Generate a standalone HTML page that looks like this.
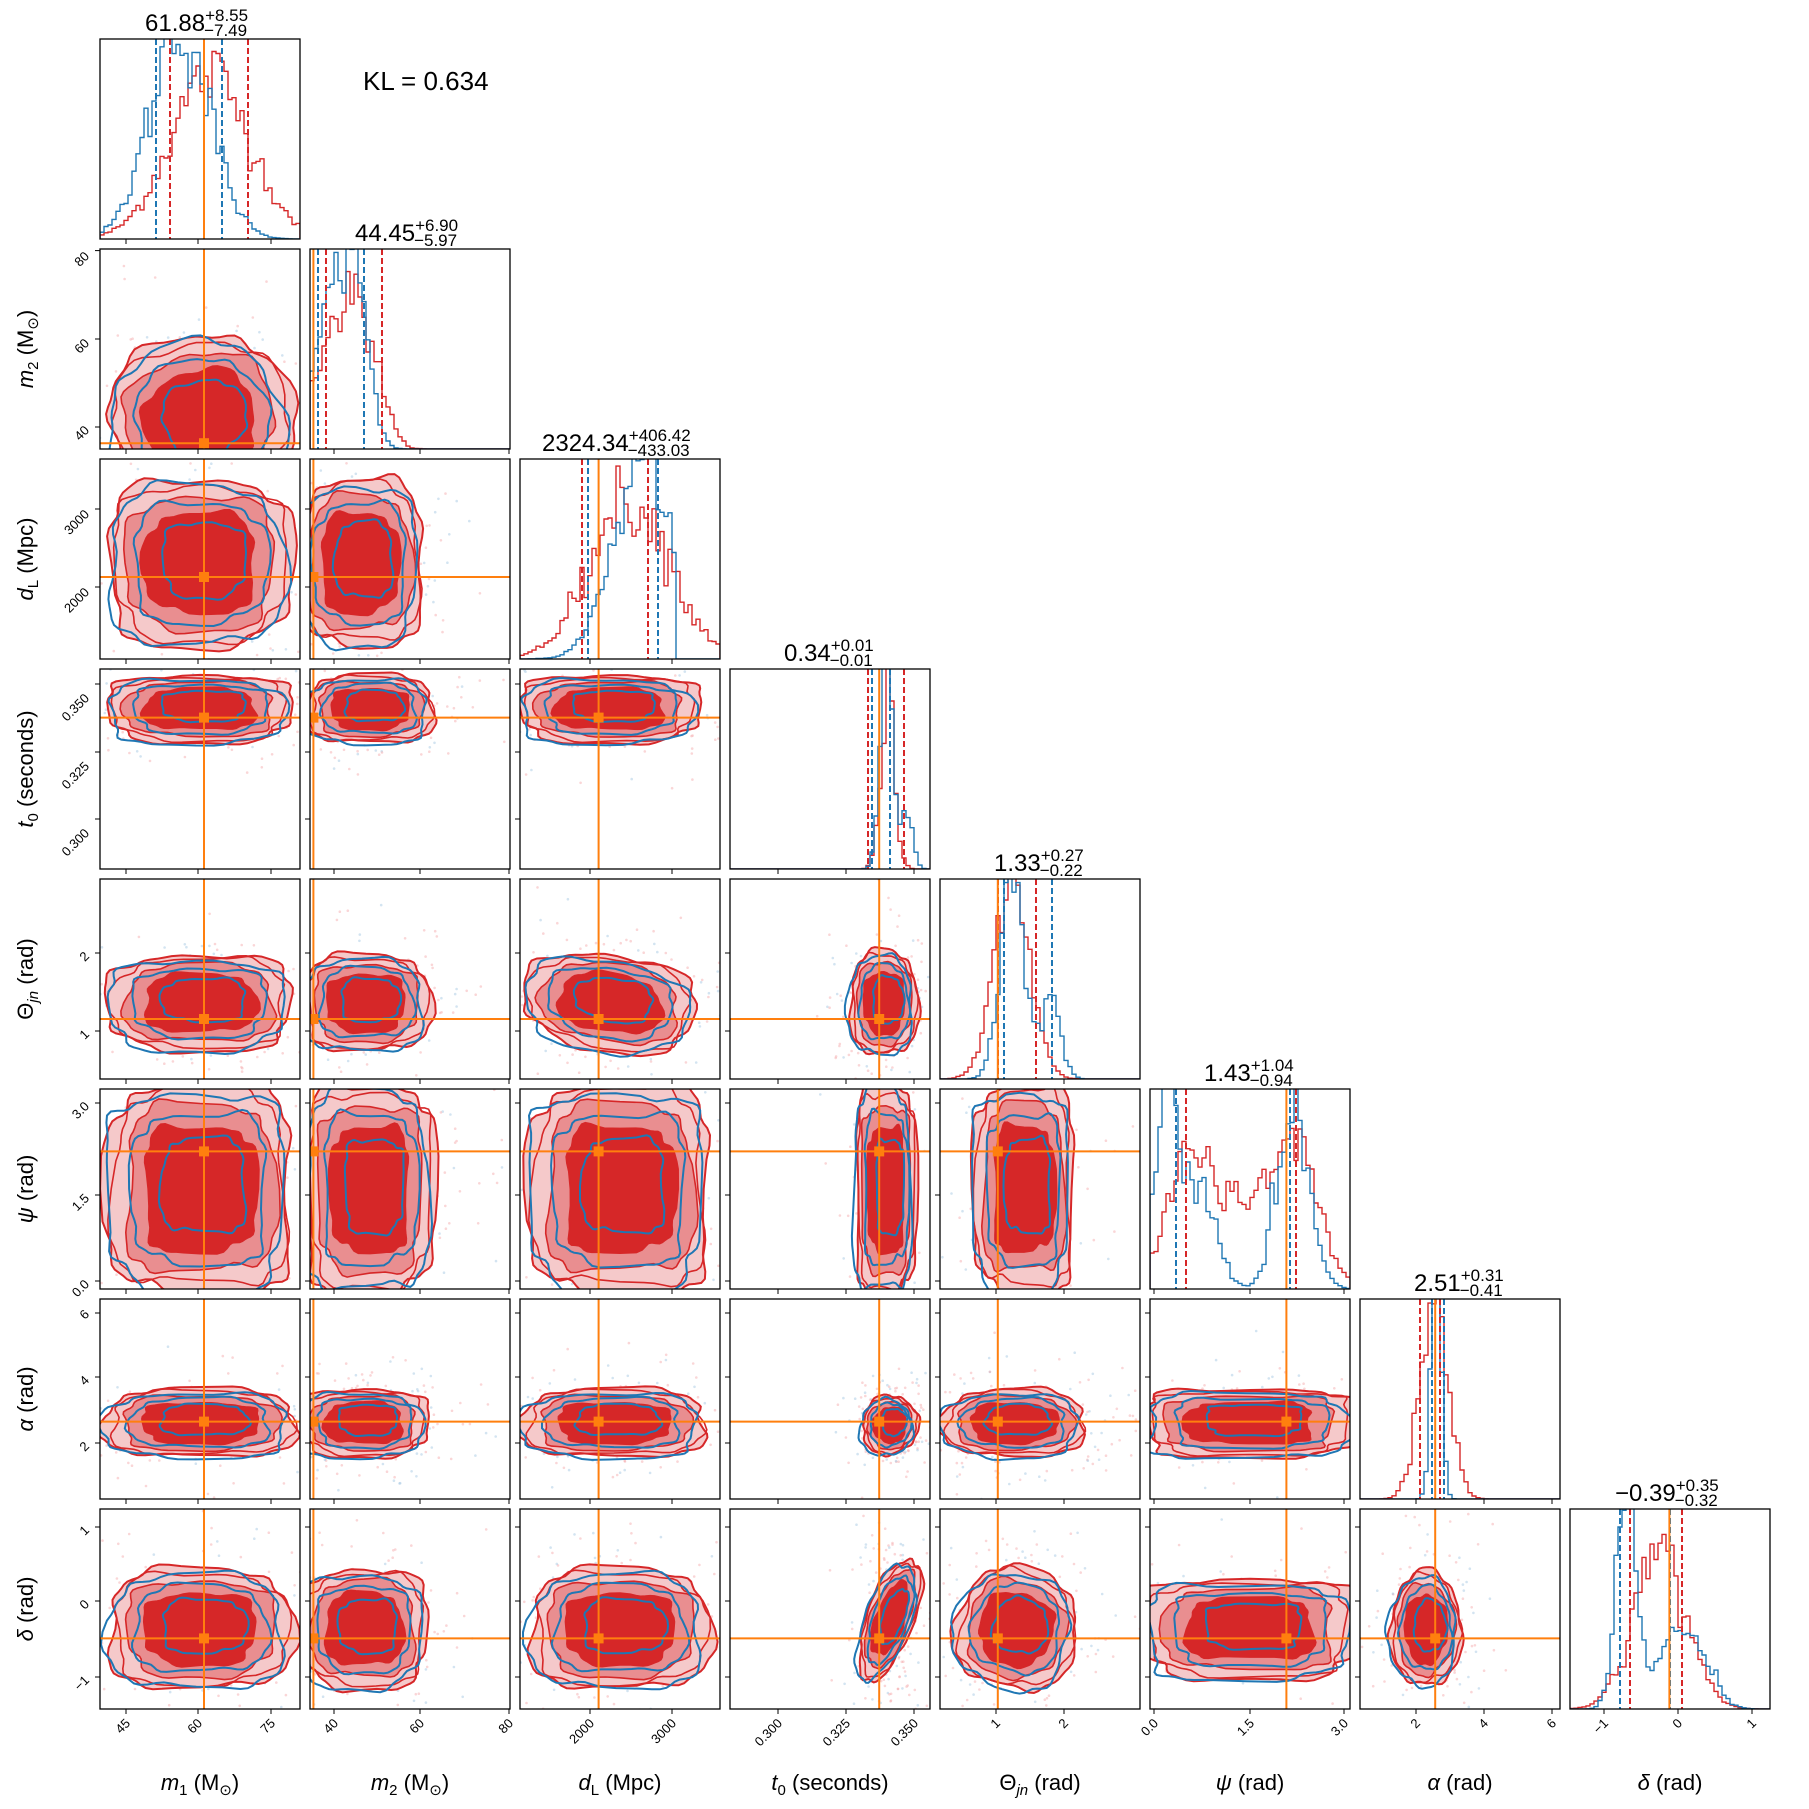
<!DOCTYPE html>
<html><head><meta charset="utf-8"><style>
html,body{margin:0;padding:0;background:#fff}
svg{display:block}
text{font-family:"Liberation Sans","DejaVu Sans",sans-serif;fill:#000}
</style></head><body>
<svg id="s" width="1809" height="1809" viewBox="0 0 1809 1809" xmlns="http://www.w3.org/2000/svg">
<g id="plots"></g>
<g id="txt" font-size="11">
<g font-size="24" text-anchor="start">
<text x="145" y="31">61.88<tspan font-size="17" dy="-10">+8.55</tspan><tspan font-size="17" dx="-44" dy="15">−7.49</tspan></text>
<text x="355" y="241">44.45<tspan font-size="17" dy="-10">+6.90</tspan><tspan font-size="17" dx="-44" dy="15">−5.97</tspan></text>
<text x="542" y="451">2324.34<tspan font-size="17" dy="-10">+406.42</tspan><tspan font-size="17" dx="-63" dy="15">−433.03</tspan></text>
<text x="784" y="661">0.34<tspan font-size="17" dy="-10">+0.01</tspan><tspan font-size="17" dx="-44" dy="15">−0.01</tspan></text>
<text x="994" y="871">1.33<tspan font-size="17" dy="-10">+0.27</tspan><tspan font-size="17" dx="-44" dy="15">−0.22</tspan></text>
<text x="1204" y="1081">1.43<tspan font-size="17" dy="-10">+1.04</tspan><tspan font-size="17" dx="-44" dy="15">−0.94</tspan></text>
<text x="1414" y="1291">2.51<tspan font-size="17" dy="-10">+0.31</tspan><tspan font-size="17" dx="-44" dy="15">−0.41</tspan></text>
<text x="1615" y="1501">−0.39<tspan font-size="17" dy="-10">+0.35</tspan><tspan font-size="17" dx="-44" dy="15">−0.32</tspan></text>
</g>
<text x="363" y="90" font-size="26">KL = 0.634</text>
<g font-size="22" text-anchor="middle">
<text x="200" y="1790"><tspan font-style="italic">m</tspan><tspan font-size="15" dy="5">1</tspan><tspan dy="-5"> (M</tspan><tspan font-size="15" dy="5">⊙</tspan><tspan dy="-5">)</tspan></text>
<text x="410" y="1790"><tspan font-style="italic">m</tspan><tspan font-size="15" dy="5">2</tspan><tspan dy="-5"> (M</tspan><tspan font-size="15" dy="5">⊙</tspan><tspan dy="-5">)</tspan></text>
<text x="620" y="1790"><tspan font-style="italic">d</tspan><tspan font-size="15" dy="5">L</tspan><tspan dy="-5"> (Mpc)</tspan></text>
<text x="830" y="1790"><tspan font-style="italic">t</tspan><tspan font-size="15" dy="5">0</tspan><tspan dy="-5"> (seconds)</tspan></text>
<text x="1040" y="1790">Θ<tspan font-size="15" dy="5" font-style="italic">jn</tspan><tspan dy="-5"> (rad)</tspan></text>
<text x="1250" y="1790"><tspan font-style="italic">ψ</tspan> (rad)</text>
<text x="1460" y="1790"><tspan font-style="italic">α</tspan> (rad)</text>
<text x="1670" y="1790"><tspan font-style="italic">δ</tspan> (rad)</text>
</g>
<g font-size="22" text-anchor="middle">
<text transform="translate(33,349) rotate(-90)"><tspan font-style="italic">m</tspan><tspan font-size="15" dy="5">2</tspan><tspan dy="-5"> (M</tspan><tspan font-size="15" dy="5">⊙</tspan><tspan dy="-5">)</tspan></text>
<text transform="translate(33,559) rotate(-90)"><tspan font-style="italic">d</tspan><tspan font-size="15" dy="5">L</tspan><tspan dy="-5"> (Mpc)</tspan></text>
<text transform="translate(33,769) rotate(-90)"><tspan font-style="italic">t</tspan><tspan font-size="15" dy="5">0</tspan><tspan dy="-5"> (seconds)</tspan></text>
<text transform="translate(33,979) rotate(-90)">Θ<tspan font-size="15" dy="5" font-style="italic">jn</tspan><tspan dy="-5"> (rad)</tspan></text>
<text transform="translate(33,1189) rotate(-90)"><tspan font-style="italic">ψ</tspan> (rad)</text>
<text transform="translate(33,1399) rotate(-90)"><tspan font-style="italic">α</tspan> (rad)</text>
<text transform="translate(33,1609) rotate(-90)"><tspan font-style="italic">δ</tspan> (rad)</text>
</g>
<g text-anchor="end" font-size="13">
<text transform="translate(131,1724) rotate(-45)">45</text>
<text transform="translate(203,1724) rotate(-45)">60</text>
<text transform="translate(276,1724) rotate(-45)">75</text>
<text transform="translate(339,1724) rotate(-45)">40</text>
<text transform="translate(425,1724) rotate(-45)">60</text>
<text transform="translate(514,1724) rotate(-45)">80</text>
<text transform="translate(595,1724) rotate(-45)">2000</text>
<text transform="translate(677,1724) rotate(-45)">3000</text>
<text transform="translate(783,1724) rotate(-45)">0.300</text>
<text transform="translate(851,1724) rotate(-45)">0.325</text>
<text transform="translate(919,1724) rotate(-45)">0.350</text>
<text transform="translate(1001,1724) rotate(-45)">1</text>
<text transform="translate(1069,1724) rotate(-45)">2</text>
<text transform="translate(1159,1724) rotate(-45)">0.0</text>
<text transform="translate(1255,1724) rotate(-45)">1.5</text>
<text transform="translate(1349,1724) rotate(-45)">3.0</text>
<text transform="translate(1421,1724) rotate(-45)">2</text>
<text transform="translate(1489,1724) rotate(-45)">4</text>
<text transform="translate(1557,1724) rotate(-45)">6</text>
<text transform="translate(1609,1724) rotate(-45)">−1</text>
<text transform="translate(1683,1724) rotate(-45)">0</text>
<text transform="translate(1757,1724) rotate(-45)">1</text>
</g>
<g text-anchor="end" font-size="13">
<text transform="translate(90,257) rotate(-45)">80</text>
<text transform="translate(90,344) rotate(-45)">60</text>
<text transform="translate(90,431) rotate(-45)">40</text>
<text transform="translate(90,515) rotate(-45)">3000</text>
<text transform="translate(90,593) rotate(-45)">2000</text>
<text transform="translate(90,699) rotate(-45)">0.350</text>
<text transform="translate(90,767) rotate(-45)">0.325</text>
<text transform="translate(90,834) rotate(-45)">0.300</text>
<text transform="translate(90,957) rotate(-45)">2</text>
<text transform="translate(90,1035) rotate(-45)">1</text>
<text transform="translate(90,1107) rotate(-45)">3.0</text>
<text transform="translate(90,1199) rotate(-45)">1.5</text>
<text transform="translate(90,1285) rotate(-45)">0.0</text>
<text transform="translate(90,1315) rotate(-45)">6</text>
<text transform="translate(90,1381) rotate(-45)">4</text>
<text transform="translate(90,1447) rotate(-45)">2</text>
<text transform="translate(90,1531) rotate(-45)">1</text>
<text transform="translate(90,1605) rotate(-45)">0</text>
<text transform="translate(90,1681) rotate(-45)">−1</text>
</g>
</g>
</svg>
<script>
(function(){
var S=200,out=[];
function X(i){return 100+210*i}
function Y(j){return 39+210*j}
var seed=12345;function rnd(){seed=(seed*1103515245+12345)%2147483648;return seed/2147483648}
function gauss(){var u=rnd()||1e-6,v=rnd();return Math.sqrt(-2*Math.log(u))*Math.cos(2*Math.PI*v)}
var tx=[.52,.017,.393,.746,.289,.682,.376,.497];
var ty=[null,.971,.59,.243,.70,.312,.613,.647];
var xt=[[.13,.49,.855],[.12,.55,.995],[.35,.76],[.24,.58,.92],[.28,.62],[.02,.5,.97],[.28,.62,.96],[.17,.54,.91]];
var yt=[null,[.008,.45,.89],[.25,.64],[.075,.415,.75],[.37,.76],[.07,.53,.96],[.07,.39,.72],[.09,.46,.84]];
var H=[
 {r:[[.55,.2,.82]],b:[[.4,.15,1.05]],dr:[.35,.74],db:[.28,.61]},
 {r:[[.12,.1,.6],[.28,.08,.5]],b:[[.12,.08,.9],[.25,.06,.6]],dr:[.08,.36],db:[.04,.27]},
 {r:[[.55,.2,.8]],b:[[.62,.15,.95]],bc:.77,dr:[.31,.64],db:[.34,.69]},
 {r:[[.79,.035,.85]],b:[[.78,.03,1.1],[.88,.03,.3]],dr:[.69,.87],db:[.71,.8]},
 {r:[[.36,.09,.95]],b:[[.36,.06,1.0],[.55,.05,.4]],dr:[.29,.48],db:[.32,.56]},
 {r:[[.2,.12,.55],[.72,.12,.6],[.45,.2,.3]],b:[[.08,.06,.95],[.25,.08,.5],[.72,.08,.9]],dr:[.18,.73],db:[.13,.7]},
 {r:[[.37,.07,1.0]],b:[[.38,.025,1.2]],dr:[.3,.4],db:[.36,.42]},
 {r:[[.45,.13,.82]],b:[[.28,.05,1.1],[.5,.08,.3],[.65,.08,.25]],dr:[.3,.56],db:[.25,.5]}
];
function f(m,x){var s=0;m.forEach(function(g){s+=g[2]*Math.exp(-0.5*Math.pow((x-g[0])/g[1],2))});return s}
function hist(i,m,col,cut){
 var x0=X(i),y0=Y(i),n=50,p="M"+x0+","+(y0+S);
 for(var k=0;k<n;k++){var xc=(k+.5)/n;var v=f(m,xc)*(1+0.12*gauss());if(cut&&xc>cut)v=0;v=Math.max(0,Math.min(1.05,v));
  var yy=y0+S-v*S;p+=" L"+(x0+k*S/n).toFixed(1)+","+yy.toFixed(1)+" L"+(x0+(k+1)*S/n).toFixed(1)+","+yy.toFixed(1);}
 p+=" L"+(x0+S)+","+(y0+S);
 out.push('<path d="'+p+'" fill="none" stroke="'+col+'" stroke-width="1.4" clip-path="url(#c'+i+'_'+i+')"/>');
}
function sp(c,n){return (c<0?-1:1)*Math.pow(Math.abs(c),2/n)}
function blob(cx,cy,rx,ry,rot,sd,sc,n){
 n=n||2;var p="";for(var k=0;k<=72;k++){var t=k/72*2*Math.PI;var r=sc*(1+0.05*Math.sin(3*t+sd)+0.035*Math.sin(7*t+2*sd)+0.02*Math.sin(13*t+sd));
  var x=rx*r*sp(Math.cos(t),n),y=ry*r*sp(Math.sin(t),n);var c=Math.cos(rot),s=Math.sin(rot);
  p+=(k?"L":"M")+(cx+x*c-y*s).toFixed(1)+","+(cy+x*s+y*c).toFixed(1);}
 return p+"Z";
}
var B={};
B["1_0"]=[.5,.86,.46,.42,-0.3,2.4];
B["2_0"]=[.5,.52,.46,.42,0,3];B["2_1"]=[.25,.52,.32,.42,0,3];
B["3_0"]=[.5,.2,.46,.17,0,3];B["3_1"]=[.3,.2,.32,.17,0,3];B["3_2"]=[.45,.2,.45,.17,0,3];
B["4_0"]=[.5,.62,.46,.24,0,3];B["4_1"]=[.28,.62,.32,.24,0,3];B["4_2"]=[.45,.62,.43,.24,0.15,2.5];B["4_3"]=[.77,.62,.17,.26,0,2.5];
B["5_0"]=[.5,.5,.46,.52,0,4];B["5_1"]=[.3,.5,.32,.52,0,4];B["5_2"]=[.5,.5,.45,.52,0,4];B["5_3"]=[.78,.5,.15,.52,0,4];B["5_4"]=[.42,.5,.25,.52,0,4];
B["6_0"]=[.5,.62,.48,.17,0,3];B["6_1"]=[.27,.62,.32,.17,0,3];B["6_2"]=[.47,.62,.46,.17,0,3];B["6_3"]=[.8,.63,.14,.15,0.3,2];B["6_4"]=[.37,.62,.36,.17,0,2.5];B["6_5"]=[.5,.62,.52,.17,0,4];
B["7_0"]=[.5,.6,.46,.3,0,3];B["7_1"]=[.27,.6,.32,.3,0,3];B["7_2"]=[.5,.6,.45,.3,0,3];B["7_3"]=[.8,.55,.12,.32,0.35,2];B["7_4"]=[.38,.6,.3,.3,0.3,2.5];B["7_5"]=[.5,.6,.52,.25,0,4];B["7_6"]=[.33,.6,.18,.29,0,2];
var defs='<defs>';
for(var j=0;j<8;j++)for(var i=0;i<=j;i++)defs+='<clipPath id="c'+j+'_'+i+'"><rect x="'+X(i)+'" y="'+Y(j)+'" width="'+S+'" height="'+S+'"/></clipPath>';
defs+='</defs>';out.push(defs);
for(var j=0;j<8;j++)for(var i=0;i<=j;i++){
 var x0=X(i),y0=Y(j);
 if(i==j){
  var h=H[i];hist(i,h.r,"#d62728");hist(i,h.b,"#1f77b4",h.bc);
  h.dr.forEach(function(d){out.push('<line x1="'+(x0+d*S)+'" y1="'+y0+'" x2="'+(x0+d*S)+'" y2="'+(y0+S)+'" stroke="#d62728" stroke-width="2" stroke-dasharray="6,3"/>')});
  h.db.forEach(function(d){out.push('<line x1="'+(x0+d*S)+'" y1="'+y0+'" x2="'+(x0+d*S)+'" y2="'+(y0+S)+'" stroke="#1f77b4" stroke-width="2" stroke-dasharray="6,3"/>')});
  out.push('<line x1="'+(x0+tx[i]*S)+'" y1="'+y0+'" x2="'+(x0+tx[i]*S)+'" y2="'+(y0+S)+'" stroke="#ff7f0e" stroke-width="2"/>');
 } else {
  var b=B[j+"_"+i];var cx=x0+b[0]*S,cy=y0+b[1]*S,rx=b[2]*S,ry=b[3]*S,ro=b[4],n=b[5],sd=i*3+j;
  var g='<g clip-path="url(#c'+j+'_'+i+')">';
  for(var k=0;k<200;k++){var px=cx+gauss()*rx*0.8,py=cy+gauss()*ry*0.8;g+='<circle cx="'+px.toFixed(1)+'" cy="'+py.toFixed(1)+'" r="1.3" fill="'+(k%3?'#f4a5a6':'#9ec3e0')+'" opacity="0.45"/>';}
  g+='<path d="'+blob(cx,cy,rx,ry,ro,sd,1,n)+'" fill="#f5c9ca" stroke="#d62728" stroke-width="2"/>';
  g+='<path d="'+blob(cx,cy,rx,ry,ro,sd+1,.93,n)+'" fill="none" stroke="#d62728" stroke-width="1.6"/>';
  g+='<path d="'+blob(cx,cy,rx,ry,ro,sd+2,.8,n)+'" fill="#e98e90" stroke="#d62728" stroke-width="1.6"/>';
  g+='<path d="'+blob(cx,cy,rx,ry,ro,sd+3,.6,n)+'" fill="#d62728" stroke="#d62728" stroke-width="1.5"/>';
  [.95,.72,.45].forEach(function(s,q){g+='<path d="'+blob(cx+(q-1)*4,cy+(1-q)*3,rx,ry,ro,sd+5+q,s,n)+'" fill="none" stroke="#1f77b4" stroke-width="2"/>';});
  var ox=x0+tx[i]*S,oy=y0+ty[j]*S;
  g+='<line x1="'+ox+'" y1="'+y0+'" x2="'+ox+'" y2="'+(y0+S)+'" stroke="#ff7f0e" stroke-width="2"/>';
  g+='<line x1="'+x0+'" y1="'+oy+'" x2="'+(x0+S)+'" y2="'+oy+'" stroke="#ff7f0e" stroke-width="2"/>';
  g+='<rect x="'+(ox-5)+'" y="'+(oy-5)+'" width="10" height="10" fill="#ff7f0e"/>';
  g+='</g>';out.push(g);
  yt[j].forEach(function(t){out.push('<line x1="'+(x0-5)+'" y1="'+(y0+t*S)+'" x2="'+x0+'" y2="'+(y0+t*S)+'" stroke="#000" stroke-width="1"/>')});
 }
 xt[i].forEach(function(t){out.push('<line x1="'+(x0+t*S)+'" y1="'+(y0+S)+'" x2="'+(x0+t*S)+'" y2="'+(y0+S+5)+'" stroke="#000" stroke-width="1"/>')});
 out.push('<rect x="'+x0+'" y="'+y0+'" width="'+S+'" height="'+S+'" fill="none" stroke="#000" stroke-width="1.3"/>');
}
document.getElementById("plots").innerHTML=out.join("");
})();
</script>
</body></html>
